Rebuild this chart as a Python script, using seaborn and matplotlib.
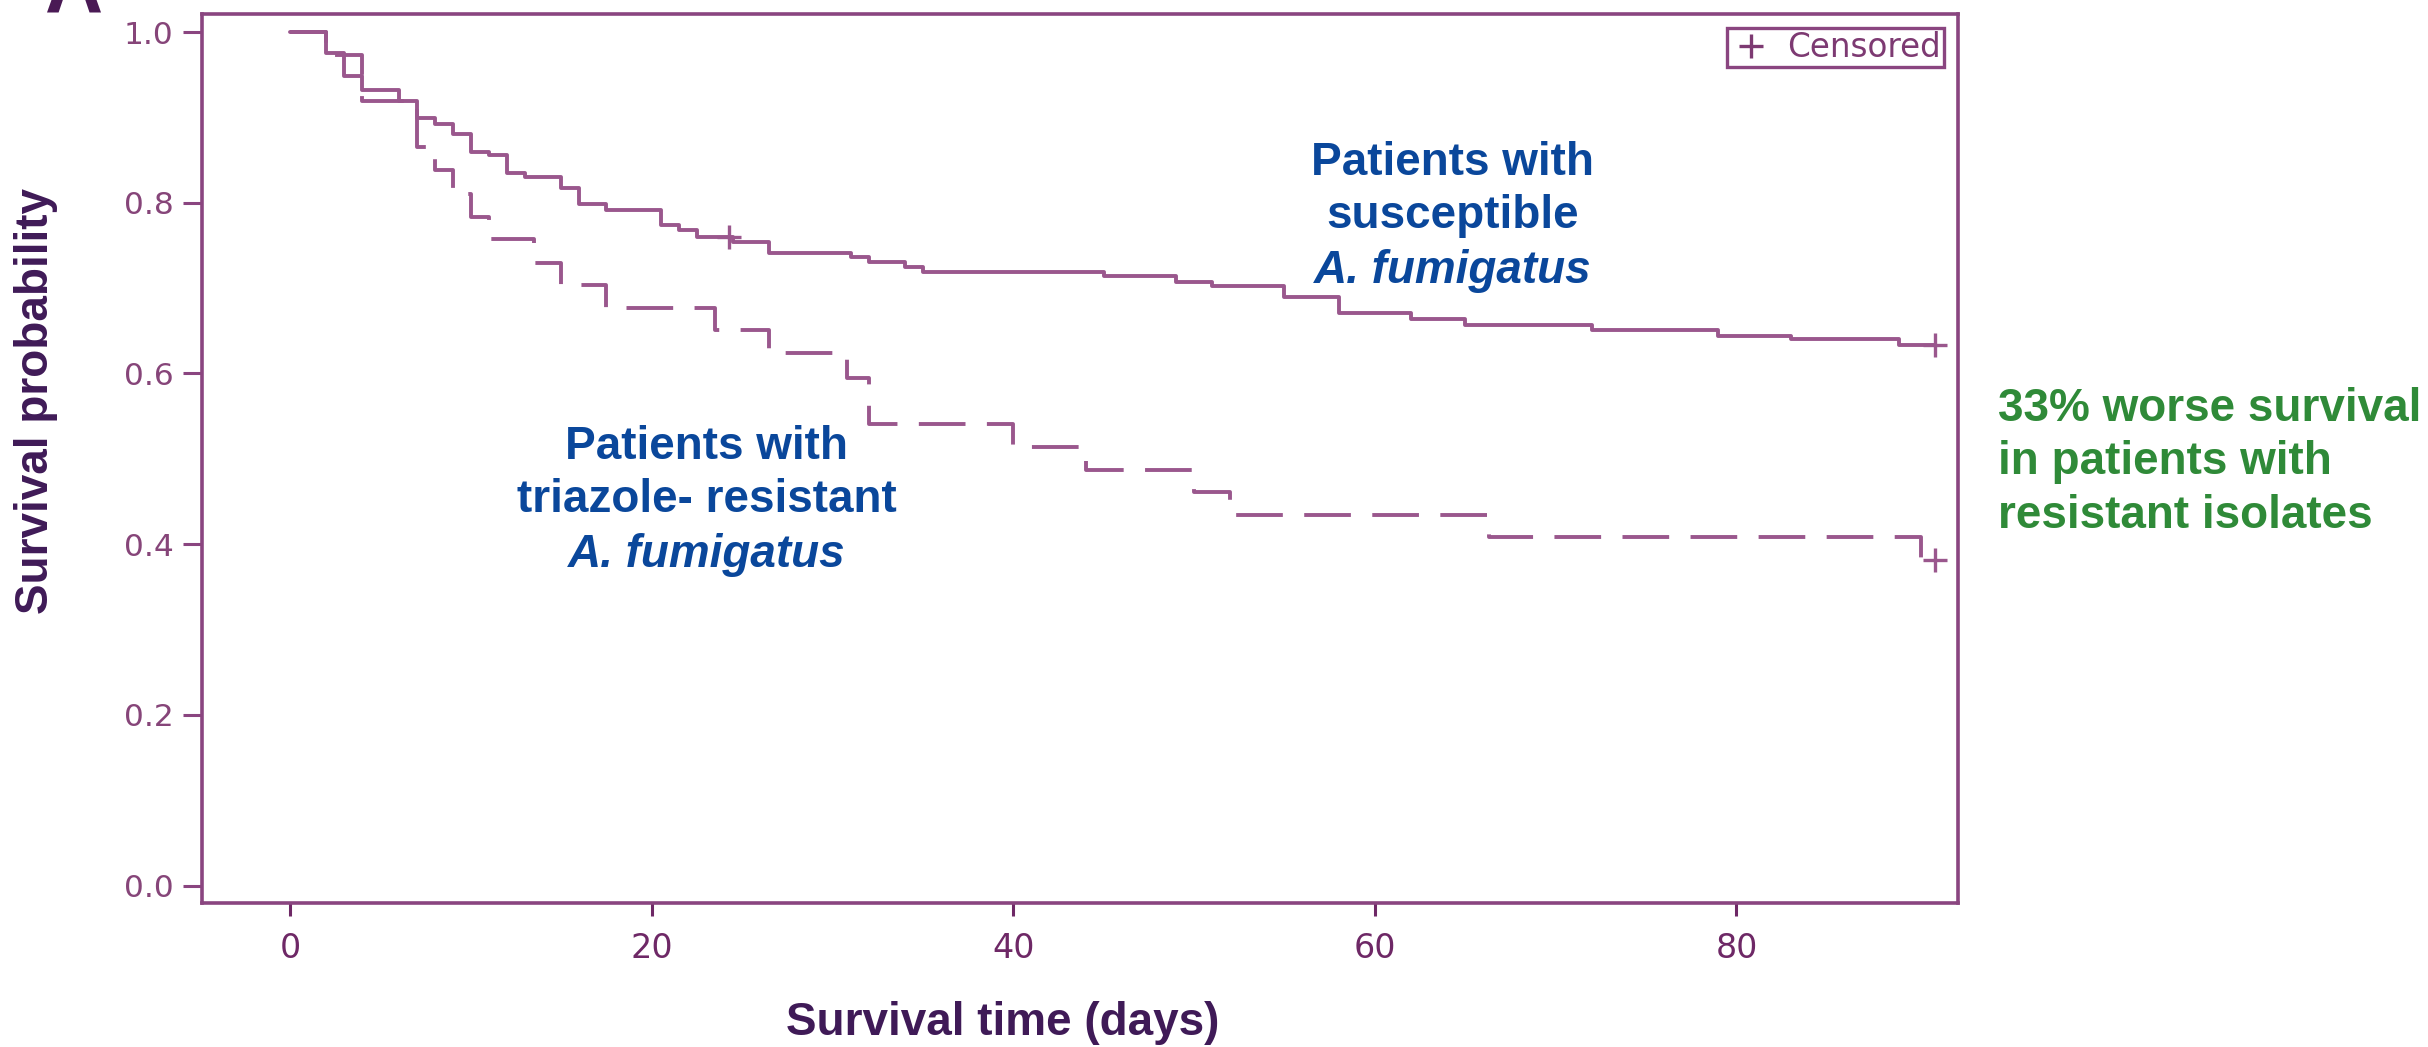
import matplotlib
matplotlib.use("Agg")
import matplotlib.pyplot as plt
import seaborn as sns
import pandas as pd
from matplotlib.lines import Line2D

# ---------------- data ----------------
sus_days = [0, 2, 3, 4, 6, 7, 8, 9, 10, 11, 12, 13, 15, 16, 17.5, 20.5, 21.5, 22.5,
            24.5, 26.5, 31, 32, 34, 35, 45, 49, 51, 55, 58, 62, 65, 72, 79, 83, 89, 91]
sus_surv = [1.0, 0.975, 0.949, 0.932, 0.919, 0.899, 0.892, 0.880, 0.860, 0.856,
            0.835, 0.830, 0.817, 0.799, 0.792, 0.774, 0.768, 0.760, 0.754, 0.741,
            0.737, 0.731, 0.725, 0.719, 0.714, 0.707, 0.702, 0.689, 0.671, 0.664,
            0.657, 0.651, 0.644, 0.640, 0.633, 0.633]
res_days = [0, 2, 4, 7, 8, 9, 10, 11, 13.5, 15, 17.5, 23.5, 26.5, 30.8, 32, 40, 44,
            50, 52, 66.3, 90.2, 91]
res_surv = [1.0, 0.973, 0.919, 0.865, 0.838, 0.810, 0.783, 0.758, 0.729, 0.704,
            0.677, 0.651, 0.624, 0.595, 0.541, 0.514, 0.487, 0.461, 0.434, 0.408,
            0.381, 0.381]
sus_censor_days = [24.3, 91]
sus_censor_surv = [0.760, 0.633]
res_censor_days = [91]
res_censor_surv = [0.381]

x_ticks = [0, 20, 40, 60, 80]
x_tick_labels = ["0", "20", "40", "60", "80"]
y_ticks = [0.0, 0.2, 0.4, 0.6, 0.8, 1.0]
y_tick_labels = ["0.0", "0.2", "0.4", "0.6", "0.8", "1.0"]

x_label = "Survival time (days)"
y_label = "Survival probability"
legend_label = "Censored"
sus_text = "Patients with\nsusceptible"
res_text = "Patients with\ntriazole- resistant"
species = "A. fumigatus"
green_text = "33% worse survival\nin patients with\nresistant isolates"

# ---------------- styling ----------------
sns.set_theme(style="ticks")
plt.rcParams["font.family"] = ["DejaVu Sans"]

CURVE = "#9a578d"
SPINE = "#8a4580"
YTICK = "#864579"
XTICK = "#6e2866"
LABEL = "#3f1a57"
BLUE = "#0a479b"
GREEN = "#2f8a38"
ARIAL = ["Liberation Sans", "DejaVu Sans"]

fig = plt.figure(figsize=(24.28, 10.47), dpi=100)
ax = fig.add_axes([0.0832, 0.1375, 0.7232, 0.8491])

df_sus = pd.DataFrame({"day": sus_days, "surv": sus_surv})
df_res = pd.DataFrame({"day": res_days, "surv": res_surv})

sns.lineplot(data=df_sus, x="day", y="surv", ax=ax, color=CURVE, lw=2.8,
             drawstyle="steps-post", estimator=None, sort=False)
sns.lineplot(data=df_res, x="day", y="surv", ax=ax, color=CURVE, lw=2.8,
             drawstyle="steps-post", estimator=None, sort=False,
             linestyle=(0, (12, 5.5)))

df_cs = pd.DataFrame({"day": sus_censor_days + res_censor_days,
                      "surv": sus_censor_surv + res_censor_surv})
sns.scatterplot(data=df_cs, x="day", y="surv", ax=ax, marker="+", s=320,
                color=CURVE, linewidth=2.4, zorder=5)

ax.set_xlim(-4.87, 92.25)
ax.set_ylim(-0.0205, 1.0211)
ax.set_xticks(x_ticks)
ax.set_xticklabels(x_tick_labels)
ax.set_yticks(y_ticks)
ax.set_yticklabels(y_tick_labels)

for sp in ax.spines.values():
    sp.set_visible(True)
    sp.set_color(SPINE)
    sp.set_linewidth(2.6)

ax.tick_params(axis="x", direction="out", length=9.5, width=2.2, color=XTICK,
               labelcolor=XTICK, labelsize=24, pad=11)
ax.tick_params(axis="y", direction="out", length=13.5, width=2.2, color=SPINE,
               labelcolor=YTICK, labelsize=22.5, pad=7)

ax.set_xlabel(x_label, fontsize=33, fontweight="bold", color=LABEL, family=ARIAL)
ax.xaxis.label.set_va("center")
ax.xaxis.set_label_coords(0.456, -0.135)
ax.set_ylabel(y_label, fontsize=33, fontweight="bold", color=LABEL, family=ARIAL)
ax.yaxis.label.set_va("center")
ax.yaxis.set_label_coords(-0.0945, 0.565)

# legend
h = Line2D([], [], marker="+", linestyle="none", color="#7d3a72", markersize=17,
           markeredgewidth=2.4)
leg = ax.legend([h], [legend_label], loc="upper right", frameon=True,
                fancybox=False, framealpha=1, edgecolor=SPINE, fontsize=23.5,
                borderpad=0.1, handlelength=1.3, handletextpad=0.45,
                borderaxespad=0.42, labelcolor="#7d3a72")
leg.get_frame().set_linewidth(2.4)

# annotations (va="baseline" aligns the last line's baseline)
LS = 1.28
ax.text(64.3, 0.770, sus_text, ha="center", va="baseline", fontsize=33,
        fontweight="bold", color=BLUE, family=ARIAL, linespacing=LS)
ax.text(64.3, 0.706, species, ha="center", va="baseline", fontsize=33,
        fontweight="bold", fontstyle="italic", color=BLUE, family=ARIAL)
ax.text(23.06, 0.4376, res_text, ha="center", va="baseline", fontsize=33,
        fontweight="bold", color=BLUE, family=ARIAL, linespacing=LS)
ax.text(23.06, 0.373, species, ha="center", va="baseline", fontsize=33,
        fontweight="bold", fontstyle="italic", color=BLUE, family=ARIAL)

fig.text(1998 / 2428, 1 - 528 / 1047, green_text, ha="left", va="baseline",
         fontsize=33, fontweight="bold", color=GREEN, family=ARIAL,
         linespacing=LS)

# panel letter, cropped at the top edge as in the reference
fig.text(0.0185, 1 - 12 / 1047, "A", ha="left", va="baseline", fontsize=58,
         fontweight="bold", color="#4a1a55", family=ARIAL)

fig.savefig("out.png", dpi=100)
